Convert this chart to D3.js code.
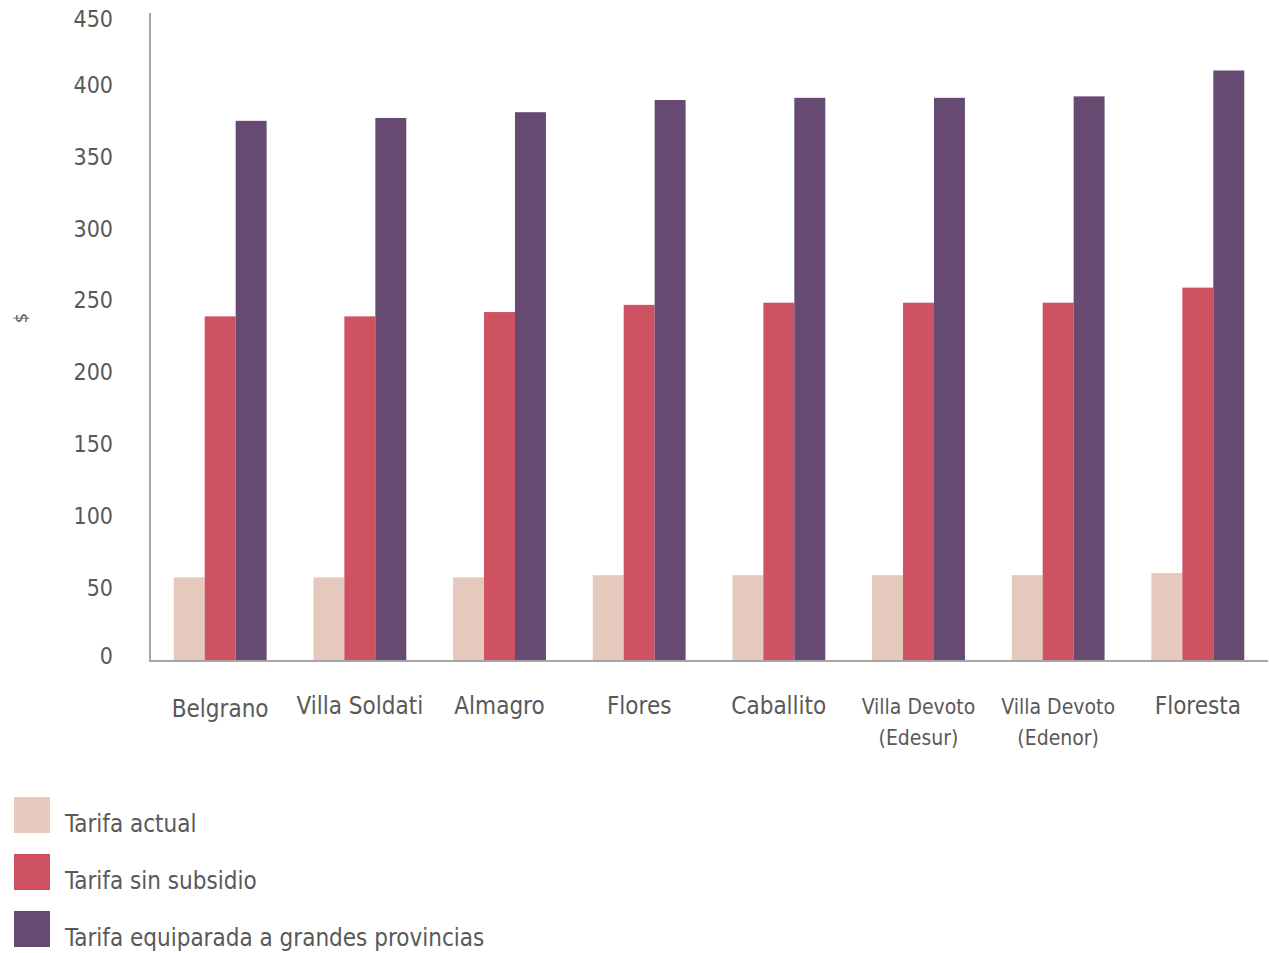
<!DOCTYPE html>
<html>
<head>
<meta charset="utf-8">
<script src="https://cdn.jsdelivr.net/npm/d3@7"></script>
<style>
  body { margin: 0; background: #fff; }
  svg { display: block; }
  text { font-family: "Liberation Sans Narrow", "DejaVu Sans Condensed", Lato, sans-serif; fill: #595959; }
</style>
</head>
<body>
<div id="chart"></div>
<script>
var barrios = ['Belgrano', 'Villa Soldati', 'Almagro', 'Flores', 'Caballito',
  'Villa Devoto\n(Edesur)', 'Villa Devoto\n(Edenor)', 'Floresta']
var series = ['Tarifa actual', 'Tarifa sin subsidio', 'Tarifa equiparada a grandes provincias']
var tarifaActual = [57.5, 57.5, 57.5, 59, 59, 59, 59, 60.5]
var tarifaSinSubsidio = [239, 239, 242, 247, 248.5, 248.5, 248.5, 259]
var tarifaEquiparada = [375, 377, 381, 389.5, 391, 391, 392, 410]
var yTicks = [0, 50, 100, 150, 200, 250, 300, 350, 400, 450]
var colores = ['#e6c9bd', '#cf5263', '#664a72']

var w = 1269
var h = 953
var mLeft = 150
var mRight = 1268
var mTop = 13
var mBottom = 660

var rows = barrios.map(function(b, i) {
  return { barrio: b, values: [tarifaActual[i], tarifaSinSubsidio[i], tarifaEquiparada[i]] }
})

var svg = d3.select('#chart').append('svg')
  .attr('width', w)
  .attr('height', h)

var x = d3.scaleBand()
  .domain(barrios)
  .range([mLeft, mRight])
  .paddingInner(0.335)
  .paddingOuter(0.17)

var xs = d3.scaleBand()
  .domain(series)
  .range([0, x.bandwidth()])

var y = d3.scaleLinear()
  .domain([0, 450])
  .range([mBottom, mTop])

// bars
var grupos = svg.selectAll('g.grupo')
  .data(rows)
  .enter().append('g')
  .attr('class', 'grupo')
  .attr('transform', function(d) { return 'translate(' + x(d.barrio) + ',0)' })

grupos.selectAll('rect')
  .data(function(d) { return d.values.map(function(v, i) { return { s: series[i], v: v, i: i } }) })
  .enter().append('rect')
  .attr('x', function(d) { return xs(d.s) })
  .attr('width', xs.bandwidth())
  .attr('y', function(d) { return y(d.v) })
  .attr('height', function(d) { return mBottom - y(d.v) })
  .attr('fill', function(d) { return colores[d.i] })

// y axis
var yAxis = svg.append('g')
  .attr('transform', 'translate(' + mLeft + ',0)')
  .call(d3.axisLeft(y).tickValues(yTicks).tickSize(0).tickPadding(37))
yAxis.select('.domain').remove()
yAxis.attr('font-family', null)
yAxis.selectAll('text')
  .style('font-size', '23px')
  .attr('fill', '#595959')
// first and last labels sit a bit inside, as in the original
yAxis.selectAll('.tick text')
  .attr('dy', function(d) { return d == 450 ? '0.6em' : (d == 0 ? '0.15em' : '0.32em') })

svg.append('line')
  .attr('x1', mLeft).attr('x2', mLeft)
  .attr('y1', mTop).attr('y2', mBottom + 1)
  .attr('stroke', '#a6a6a6').attr('stroke-width', 2)
svg.append('line')
  .attr('x1', mLeft - 1).attr('x2', mRight)
  .attr('y1', mBottom + 1).attr('y2', mBottom + 1)
  .attr('stroke', '#a6a6a6').attr('stroke-width', 2)

// unidad
svg.append('text')
  .attr('transform', 'translate(22,318) rotate(-90)')
  .attr('text-anchor', 'middle')
  .attr('dominant-baseline', 'middle')
  .style('font-size', '18px')
  .attr('fill', '#7a7a7a')
  .text('$')

// x labels
svg.selectAll('text.xlabel')
  .data(barrios)
  .enter().append('text')
  .attr('class', 'xlabel')
  .attr('text-anchor', 'middle')
  .attr('x', function(d) { return x(d) + x.bandwidth() / 2 })
  .attr('y', function(d, i) { return i == 0 ? 717 : 714 })
  .style('font-size', function(d) { return d.indexOf('\n') > 0 ? '21px' : '24px' })
  .each(function(d) {
    var lines = d.split('\n')
    var t = d3.select(this)
    lines.forEach(function(l, i) {
      t.append('tspan')
        .attr('x', t.attr('x'))
        .attr('dy', i == 0 ? 0 : 31)
        .text(l)
    })
  })

// legend
var leyenda = svg.selectAll('g.leyenda')
  .data(series)
  .enter().append('g')
  .attr('class', 'leyenda')
  .attr('transform', function(d, i) { return 'translate(14,' + (797 + i * 57) + ')' })

leyenda.append('rect')
  .attr('width', 36)
  .attr('height', 36)
  .attr('fill', function(d, i) { return colores[i] })

leyenda.append('text')
  .attr('x', 51)
  .attr('y', 35)
  .style('font-size', '24px')
  .text(function(d) { return d })
</script>
</body>
</html>
